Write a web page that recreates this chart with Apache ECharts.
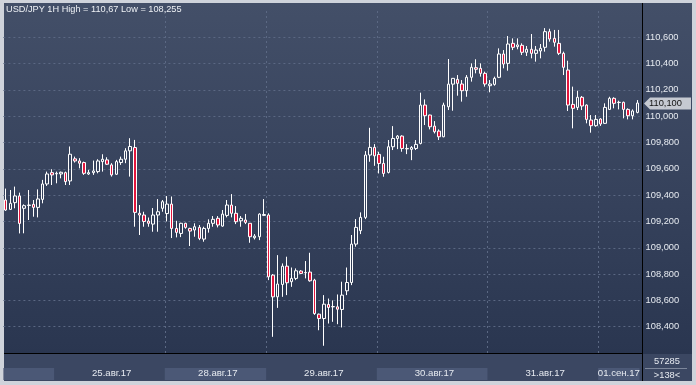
<!DOCTYPE html>
<html><head><meta charset="utf-8">
<script src="https://cdn.jsdelivr.net/npm/echarts@6/dist/echarts.min.js"></script>
<style>
html,body{margin:0;padding:0;width:696px;height:385px;overflow:hidden;background:#cfd3db;}
#bg{position:absolute;left:4px;top:3px;width:688px;height:378px;background:linear-gradient(#434f68 0%,#36425c 50%,#28344e 100%);}
#strip{position:absolute;left:4px;top:354px;width:688px;height:27px;background:#3b4762;}
#vline{position:absolute;left:642px;top:3px;width:1px;height:378px;background:#000;}
#hline{position:absolute;left:4px;top:353px;width:638px;height:1px;background:#000;}
#sep{position:absolute;left:645px;top:368px;width:42px;height:1px;background:#7d879b;}
#chart{position:absolute;left:0;top:0;width:696px;height:385px;}
</style></head>
<body>
<div id="bg"></div><div id="strip"></div><div id="vline"></div><div id="hline"></div><div id="sep"></div>
<div id="chart"></div>
<script>
// ---- data ----
const titleText = 'USD/JPY 1H High = 110,67 Low = 108,255';
const dayLabels = ['24.авг.17','25.авг.17','28.авг.17','29.авг.17','30.авг.17','31.авг.17','01.сен.17'];
const dayStartHour = [13, 0, 2, 0, 0, 0, 0];
const dayBarCount = [11, 24, 22, 24, 24, 24, 9];
const yTickMin = 108.2, yTickMax = 110.8, yTickStep = 0.2;
const infoTop = '57285';

const opens = [109.363,109.292,109.343,109.394,109.300,109.322,109.330,109.307,109.368,109.485,109.571,109.562,109.561,109.571,109.508,109.676,109.660,109.648,109.561,109.571,109.579,109.655,109.668,109.630,109.559,109.648,109.673,109.737,109.762,109.262,109.249,109.203,109.180,109.249,109.300,109.260,109.332,109.147,109.109,109.186,109.147,109.135,109.155,109.066,109.147,109.186,109.224,109.165,109.246,109.325,109.262,109.205,109.211,109.186,109.076,109.084,109.246,109.249,108.792,108.627,108.721,108.860,108.742,108.767,108.823,108.810,108.815,108.754,108.495,108.462,108.569,108.551,108.551,108.531,108.673,108.736,109.028,109.130,109.231,109.705,109.763,109.710,109.641,109.573,109.768,109.831,109.849,109.755,109.748,109.755,109.793,110.085,110.009,109.925,109.887,109.844,110.072,110.244,110.280,110.245,110.194,110.296,110.369,110.364,110.326,110.232,110.242,110.296,110.473,110.402,110.554,110.529,110.539,110.486,110.509,110.478,110.496,110.524,110.643,110.592,110.554,110.478,110.351,110.090,110.067,110.144,110.085,109.971,109.928,109.979,109.946,110.052,110.136,110.106,110.106,110.052,110.004,110.029];
const highs = [109.450,109.439,109.465,109.419,109.330,109.439,109.363,109.444,109.516,109.579,109.597,109.579,109.579,109.579,109.770,109.693,109.681,109.655,109.592,109.663,109.673,109.711,109.688,109.643,109.668,109.693,109.757,109.833,109.820,109.325,109.274,109.230,109.302,109.370,109.363,109.393,109.390,109.205,109.190,109.190,109.152,109.186,109.173,109.160,109.216,109.241,109.241,109.287,109.363,109.408,109.317,109.241,109.257,109.186,109.104,109.262,109.370,109.262,108.800,108.944,108.881,108.932,108.850,108.843,108.830,108.899,108.962,108.764,108.500,108.640,108.614,108.600,108.645,108.742,108.850,109.097,109.218,109.269,109.735,109.912,109.788,109.730,109.692,109.819,109.925,109.857,109.855,109.788,109.773,109.819,110.179,110.128,110.012,109.963,109.900,110.103,110.435,110.290,110.313,110.275,110.313,110.402,110.433,110.402,110.339,110.275,110.301,110.516,110.503,110.610,110.592,110.592,110.554,110.534,110.625,110.534,110.549,110.670,110.665,110.656,110.656,110.491,110.422,110.225,110.194,110.154,110.090,110.009,110.009,109.985,110.098,110.148,110.144,110.118,110.111,110.060,110.052,110.123];
const lows = [109.280,109.287,109.300,109.109,109.110,109.211,109.236,109.231,109.338,109.470,109.477,109.490,109.528,109.477,109.477,109.648,109.604,109.554,109.554,109.554,109.566,109.579,109.630,109.541,109.554,109.630,109.643,109.541,109.160,109.097,109.160,109.160,109.122,109.122,109.274,109.200,109.074,109.079,109.081,109.145,109.013,109.084,109.058,109.046,109.115,109.160,109.155,109.160,109.231,109.231,109.180,109.160,109.180,109.038,109.063,109.058,109.241,108.754,108.323,108.543,108.627,108.640,108.703,108.754,108.800,108.767,108.742,108.490,108.373,108.255,108.424,108.437,108.419,108.394,108.640,108.716,109.008,109.104,109.218,109.654,109.623,109.565,109.540,109.565,109.743,109.750,109.730,109.712,109.666,109.743,109.786,109.933,109.900,109.869,109.819,109.840,110.047,110.042,110.156,110.111,110.148,110.263,110.326,110.301,110.225,110.182,110.232,110.290,110.364,110.346,110.503,110.509,110.465,110.458,110.440,110.415,110.440,110.491,110.567,110.529,110.465,110.313,110.040,109.908,110.047,110.047,109.946,109.875,109.920,109.926,109.941,110.047,110.060,110.052,109.984,109.976,109.976,110.022];
const closes = [109.287,109.338,109.394,109.185,109.320,109.325,109.307,109.371,109.485,109.561,109.554,109.566,109.574,109.503,109.711,109.660,109.643,109.566,109.571,109.584,109.660,109.673,109.635,109.554,109.655,109.673,109.737,109.770,109.269,109.249,109.200,109.186,109.249,109.274,109.350,109.332,109.147,109.117,109.186,109.155,109.127,109.160,109.071,109.147,109.186,109.216,109.173,109.256,109.325,109.262,109.198,109.224,109.193,109.084,109.089,109.256,109.253,108.779,108.627,108.724,108.860,108.734,108.767,108.825,108.805,108.812,108.749,108.500,108.462,108.571,108.546,108.553,108.533,108.640,108.736,109.028,109.155,109.231,109.705,109.763,109.699,109.641,109.565,109.768,109.831,109.849,109.755,109.752,109.763,109.786,110.085,110.004,109.920,109.882,109.844,110.085,110.244,110.288,110.250,110.194,110.296,110.372,110.357,110.326,110.245,110.245,110.288,110.473,110.397,110.549,110.524,110.542,110.486,110.509,110.478,110.503,110.516,110.643,110.587,110.562,110.478,110.372,110.085,110.060,110.144,110.078,109.976,109.928,109.976,109.941,110.067,110.136,110.098,110.104,110.052,110.004,110.040,110.100];

// ---- derived ----
const categories = [];
const dayStarts = [];
const labelIdx = [];
dayLabels.forEach((d, k) => {
  dayStarts.push(categories.length);
  if (k > 0) labelIdx.push(categories.length + Math.floor(dayBarCount[k] / 2));
  for (let h = 0; h < dayBarCount[k]; h++) {
    const hh = dayStartHour[k] + h;
    categories.push(d + ' ' + (hh < 10 ? '0' : '') + hh + ':00');
  }
});
const candleData = opens.map((o, i) => [o, closes[i], lows[i], highs[i]]);
const fmt = v => v.toFixed(3).replace('.', ',');
const FONT = 'Liberation Sans, Arial, sans-serif';
const gridLine = { color: '#5b6883', width: 1, type: [2, 3] };

const chart = echarts.init(document.getElementById('chart'), null, { renderer: 'canvas' });
chart.setOption({
  animation: false,
  backgroundColor: 'transparent',
  title: {
    text: titleText, left: 6, top: 5, padding: 0,
    textStyle: { fontFamily: FONT, fontSize: 9.2, fontWeight: 'normal', color: '#eef1f5' }
  },
  grid: [
    { left: 3.4, width: 636.2, top: 11, bottom: 32, containLabel: false, outerBoundsMode: 'none' },
    { left: 3.4, width: 636.2, top: 368, height: 12, containLabel: false, outerBoundsMode: 'none' }
  ],
  xAxis: [
    {
      type: 'category', gridIndex: 0, data: categories, boundaryGap: true,
      axisLine: { show: false }, axisTick: { show: false }, axisLabel: { show: false },
      splitLine: { show: true, showMinLine: false, showMaxLine: false,
        interval: (i) => i > 0 && dayStarts.indexOf(i) >= 0, lineStyle: gridLine }
    },
    {
      type: 'category', gridIndex: 1, data: categories, boundaryGap: true,
      axisLine: { show: false }, axisTick: { show: false },
      axisLabel: {
        show: true, interval: (i) => labelIdx.indexOf(i) >= 0,
        formatter: (v) => v.split(' ')[0], margin: -7, verticalAlign: 'middle',
        fontFamily: FONT, fontSize: 9.6, color: '#e6eaf0', hideOverlap: false
      },
      splitLine: { show: false },
      splitArea: { show: true, interval: (i) => dayStarts.indexOf(i) >= 0,
        areaStyle: { color: ['#4b5876', 'rgba(0,0,0,0)'] } }
    }
  ],
  yAxis: [
    {
      type: 'value', gridIndex: 0, position: 'right', offset: 3,
      min: yTickMin, max: yTickMax, interval: yTickStep, scale: true,
      axisLine: { show: false }, axisTick: { show: false },
      axisLabel: { show: true, margin: 3, showMinLabel: false, showMaxLabel: false,
        formatter: fmt, fontFamily: FONT, fontSize: 9.3, color: '#e6eaf0', hideOverlap: false },
      splitLine: { show: true, showMinLine: false, showMaxLine: false, lineStyle: gridLine }
    },
    { type: 'value', gridIndex: 1, show: false }
  ],
  series: [{
    type: 'candlestick', xAxisIndex: 0, yAxisIndex: 0,
    data: candleData, barWidth: 3,
    itemStyle: {
      color: 'rgba(0,0,0,0)', color0: '#e3163d',
      borderColor: '#ffffff', borderColor0: '#ffffff', borderColorDoji: '#ffffff', borderWidth: 1
    },
    emphasis: { disabled: true }
  }]
});

const lastClose = closes[closes.length - 1];
const yc = Math.round(chart.convertToPixel({ yAxisIndex: 0 }, lastClose)) + 0.5;
chart.setOption({
  graphic: [
    { type: 'polygon', z: 100, shape: { points: [[644, yc], [650, yc - 6], [691, yc - 6], [691, yc + 6], [650, yc + 6]] },
      style: { fill: '#c5c9d1', lineWidth: 0 } },
    { type: 'text', z: 101, x: 649, y: yc, style: { text: fmt(lastClose), fill: '#111', font: '9.3px ' + FONT, verticalAlign: 'middle', align: 'left' } },
    { type: 'text', z: 101, x: 667, y: 361.5, style: { text: infoTop, fill: '#e6eaf0', font: '9.3px ' + FONT, verticalAlign: 'middle', align: 'center' } },
    { type: 'text', z: 101, x: 667, y: 375.5, style: { text: '>' + categories.length + '<', fill: '#e6eaf0', font: '9.3px ' + FONT, verticalAlign: 'middle', align: 'center' } }
  ]
});
</script>
</body></html>
